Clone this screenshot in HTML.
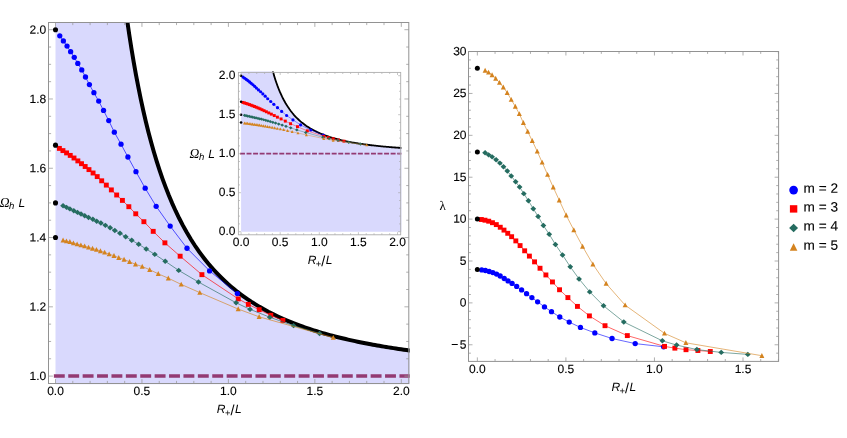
<!DOCTYPE html>
<html><head><meta charset="utf-8"><title>plot</title>
<style>html,body{margin:0;padding:0;background:#fff}body{width:847px;height:438px;overflow:hidden;font-family:"Liberation Sans",sans-serif}</style></head>
<body>
<svg width="847" height="438" viewBox="0 0 847 438" style="display:block;will-change:transform">
<rect width="847" height="438" fill="#fff"/>
<defs>
<clipPath id="cl"><rect x="48.5" y="22.5" width="360.3" height="361.0"/></clipPath>
<clipPath id="ci"><rect x="238.4" y="72.4" width="162.29999999999998" height="162.4"/></clipPath>
<clipPath id="cls"><rect x="48.5" y="22.0" width="361.2" height="362.3"/></clipPath>
<clipPath id="cis"><rect x="238.4" y="71.60000000000001" width="162.99999999999997" height="163.20000000000002"/></clipPath>
</defs>
<g clip-path="url(#cls)">
<path d="M55.50 388.50L55.50 14.50L113.68 14.50L113.68 -99.35L116.64 -68.14L119.66 -39.45L122.76 -13.00L124.86 3.53L127.01 19.24L129.20 34.19L131.43 48.45L133.71 62.05L136.03 75.04L138.40 87.47L140.83 99.36L143.31 110.76L145.86 121.70L148.46 132.20L151.14 142.29L153.89 152.00L156.71 161.35L159.62 170.36L162.62 179.05L165.71 187.43L168.90 195.54L172.21 203.37L175.63 210.95L179.18 218.29L182.86 225.41L186.70 232.31L190.70 239.00L194.87 245.51L197.03 248.69L199.24 251.83L201.50 254.93L203.82 257.98L206.20 260.99L208.64 263.96L211.14 266.90L213.71 269.79L216.35 272.65L219.07 275.47L221.87 278.26L224.76 281.02L227.73 283.74L230.80 286.42L233.97 289.08L237.24 291.71L240.63 294.30L244.15 296.87L247.79 299.41L251.57 301.92L255.51 304.40L259.60 306.86L263.87 309.29L268.32 311.70L272.98 314.08L277.86 316.44L282.98 318.78L288.36 321.09L294.03 323.38L300.02 325.65L302.32 326.48L304.66 327.31L307.06 328.14L309.51 328.97L311.60 329.65L313.72 330.33L315.89 331.02L318.10 331.70L320.35 332.37L322.65 333.05L325.00 333.72L327.39 334.40L329.84 335.07L332.34 335.74L334.89 336.40L336.98 336.94L339.10 337.47L341.26 338.00L343.46 338.53L345.71 339.06L347.99 339.58L350.32 340.11L352.70 340.63L355.12 341.16L357.59 341.68L360.11 342.20L362.69 342.72L365.32 343.24L368.00 343.76L370.75 344.28L372.85 344.67L374.98 345.05L377.15 345.44L379.36 345.83L381.61 346.21L383.90 346.60L386.22 346.98L388.59 347.37L391.01 347.75L393.47 348.13L395.97 348.51L398.53 348.90L401.13 349.28L403.78 349.66L406.49 350.04L409.25 350.42L412.07 350.80L414.95 351.17L417.89 351.55L418.89 351.68L419.89 351.80L420.90 351.93L421.91 352.06L421.91 388.50Z" fill="#d9d9fd"/>
<path d="M122.76 -13.00L124.86 3.53L127.01 19.24L129.20 34.19L131.43 48.45L133.71 62.05L136.03 75.04L138.40 87.47L140.83 99.36L143.31 110.76L145.86 121.70L148.46 132.20L151.14 142.29L153.89 152.00L156.71 161.35L159.62 170.36L162.62 179.05L165.71 187.43L168.90 195.54L172.21 203.37L175.63 210.95L179.18 218.29L182.86 225.41L186.70 232.31L190.70 239.00L194.87 245.51L197.03 248.69L199.24 251.83L201.50 254.93L203.82 257.98L206.20 260.99L208.64 263.96L211.14 266.90L213.71 269.79L216.35 272.65L219.07 275.47L221.87 278.26L224.76 281.02L227.73 283.74L230.80 286.42L233.97 289.08L237.24 291.71L240.63 294.30L244.15 296.87L247.79 299.41L251.57 301.92L255.51 304.40L259.60 306.86L263.87 309.29L268.32 311.70L272.98 314.08L277.86 316.44L282.98 318.78L288.36 321.09L294.03 323.38L300.02 325.65L302.32 326.48L304.66 327.31L307.06 328.14L309.51 328.97L311.60 329.65L313.72 330.33L315.89 331.02L318.10 331.70L320.35 332.37L322.65 333.05L325.00 333.72L327.39 334.40L329.84 335.07L332.34 335.74L334.89 336.40L336.98 336.94L339.10 337.47L341.26 338.00L343.46 338.53L345.71 339.06L347.99 339.58L350.32 340.11L352.70 340.63L355.12 341.16L357.59 341.68L360.11 342.20L362.69 342.72L365.32 343.24L368.00 343.76L370.75 344.28L372.85 344.67L374.98 345.05L377.15 345.44L379.36 345.83L381.61 346.21L383.90 346.60L386.22 346.98L388.59 347.37L391.01 347.75L393.47 348.13L395.97 348.51L398.53 348.90L401.13 349.28L403.78 349.66L406.49 350.04L409.25 350.42L412.07 350.80L414.95 351.17L417.89 351.55L418.89 351.68L419.89 351.80L420.90 351.93L421.91 352.06" fill="none" stroke="#000" stroke-width="4.0"/>
</g>
<path d="M53.85 376.10H409.70" stroke="#933a73" stroke-width="3.5" stroke-dasharray="10.9 3.5" fill="none"/>
<path d="M59.78 35.85L63.38 40.90L67.04 46.10L70.64 51.70L74.25 57.30L77.80 63.45L81.76 69.90L85.49 77.00L89.41 84.60L93.91 92.70L98.70 101.10L103.54 110.45L108.75 120.60L114.34 132.20L121.03 144.20L127.90 157.00L135.97 171.70L145.18 188.20L156.15 206.30L170.18 226.10L187.00 248.25L209.61 270.90L237.37 293.60" fill="none" stroke="#0000ff" stroke-width="0.65"/>
<circle cx="59.78" cy="35.85" r="2.65" fill="#0000ff"/>
<circle cx="63.38" cy="40.90" r="2.65" fill="#0000ff"/>
<circle cx="67.04" cy="46.10" r="2.65" fill="#0000ff"/>
<circle cx="70.64" cy="51.70" r="2.65" fill="#0000ff"/>
<circle cx="74.25" cy="57.30" r="2.65" fill="#0000ff"/>
<circle cx="77.80" cy="63.45" r="2.65" fill="#0000ff"/>
<circle cx="81.76" cy="69.90" r="2.65" fill="#0000ff"/>
<circle cx="85.49" cy="77.00" r="2.65" fill="#0000ff"/>
<circle cx="89.41" cy="84.60" r="2.65" fill="#0000ff"/>
<circle cx="93.91" cy="92.70" r="2.65" fill="#0000ff"/>
<circle cx="98.70" cy="101.10" r="2.65" fill="#0000ff"/>
<circle cx="103.54" cy="110.45" r="2.65" fill="#0000ff"/>
<circle cx="108.75" cy="120.60" r="2.65" fill="#0000ff"/>
<circle cx="114.34" cy="132.20" r="2.65" fill="#0000ff"/>
<circle cx="121.03" cy="144.20" r="2.65" fill="#0000ff"/>
<circle cx="127.90" cy="157.00" r="2.65" fill="#0000ff"/>
<circle cx="135.97" cy="171.70" r="2.65" fill="#0000ff"/>
<circle cx="145.18" cy="188.20" r="2.65" fill="#0000ff"/>
<circle cx="156.15" cy="206.30" r="2.65" fill="#0000ff"/>
<circle cx="170.18" cy="226.10" r="2.65" fill="#0000ff"/>
<circle cx="187.00" cy="248.25" r="2.65" fill="#0000ff"/>
<circle cx="209.61" cy="270.90" r="2.65" fill="#0000ff"/>
<circle cx="237.37" cy="293.60" r="2.65" fill="#0000ff"/>
<path d="M59.38 148.40L62.94 150.60L66.59 152.90L70.25 155.40L74.00 158.00L77.85 160.90L81.51 163.70L85.17 166.50L88.97 169.60L93.07 173.00L97.22 176.60L101.69 180.80L106.31 185.10L111.35 189.90L116.68 195.00L122.41 200.40L128.84 206.70L135.75 213.80L143.90 221.70L153.21 231.35L164.90 242.85L180.14 256.20L201.92 274.65L238.26 298.90L248.33 304.40L259.20 309.70L270.81 315.30L282.91 320.40" fill="none" stroke="#ff0000" stroke-width="0.65"/>
<rect x="56.93" y="145.95" width="4.90" height="4.90" fill="#ff0000"/>
<rect x="60.49" y="148.15" width="4.90" height="4.90" fill="#ff0000"/>
<rect x="64.14" y="150.45" width="4.90" height="4.90" fill="#ff0000"/>
<rect x="67.80" y="152.95" width="4.90" height="4.90" fill="#ff0000"/>
<rect x="71.55" y="155.55" width="4.90" height="4.90" fill="#ff0000"/>
<rect x="75.40" y="158.45" width="4.90" height="4.90" fill="#ff0000"/>
<rect x="79.06" y="161.25" width="4.90" height="4.90" fill="#ff0000"/>
<rect x="82.72" y="164.05" width="4.90" height="4.90" fill="#ff0000"/>
<rect x="86.52" y="167.15" width="4.90" height="4.90" fill="#ff0000"/>
<rect x="90.62" y="170.55" width="4.90" height="4.90" fill="#ff0000"/>
<rect x="94.77" y="174.15" width="4.90" height="4.90" fill="#ff0000"/>
<rect x="99.24" y="178.35" width="4.90" height="4.90" fill="#ff0000"/>
<rect x="103.86" y="182.65" width="4.90" height="4.90" fill="#ff0000"/>
<rect x="108.90" y="187.45" width="4.90" height="4.90" fill="#ff0000"/>
<rect x="114.23" y="192.55" width="4.90" height="4.90" fill="#ff0000"/>
<rect x="119.96" y="197.95" width="4.90" height="4.90" fill="#ff0000"/>
<rect x="126.39" y="204.25" width="4.90" height="4.90" fill="#ff0000"/>
<rect x="133.30" y="211.35" width="4.90" height="4.90" fill="#ff0000"/>
<rect x="141.45" y="219.25" width="4.90" height="4.90" fill="#ff0000"/>
<rect x="150.76" y="228.90" width="4.90" height="4.90" fill="#ff0000"/>
<rect x="162.45" y="240.40" width="4.90" height="4.90" fill="#ff0000"/>
<rect x="177.69" y="253.75" width="4.90" height="4.90" fill="#ff0000"/>
<rect x="199.47" y="272.20" width="4.90" height="4.90" fill="#ff0000"/>
<rect x="235.81" y="296.45" width="4.90" height="4.90" fill="#ff0000"/>
<rect x="245.88" y="301.95" width="4.90" height="4.90" fill="#ff0000"/>
<rect x="256.75" y="307.25" width="4.90" height="4.90" fill="#ff0000"/>
<rect x="268.36" y="312.85" width="4.90" height="4.90" fill="#ff0000"/>
<rect x="280.46" y="317.95" width="4.90" height="4.90" fill="#ff0000"/>
<path d="M63.07 205.80L66.48 207.36L69.90 208.89L73.81 210.70L77.52 212.42L81.03 214.06L84.74 215.72L88.55 217.50L92.87 219.27L96.72 221.21L100.88 223.04L105.37 225.33L110.11 227.80L114.83 230.43L119.99 233.24L125.67 236.80L131.72 240.26L138.67 244.28L146.20 249.01L154.77 254.34L165.22 261.31L178.70 270.40L198.47 282.02L236.13 302.81L250.04 309.33L269.82 317.24L293.58 325.66L319.57 333.46" fill="none" stroke="#256c60" stroke-width="0.65"/>
<path d="M60.17 205.80L63.07 203.10L65.97 205.80L63.07 208.50Z" fill="#256c60"/>
<path d="M63.58 207.36L66.48 204.66L69.38 207.36L66.48 210.06Z" fill="#256c60"/>
<path d="M67.00 208.89L69.90 206.19L72.80 208.89L69.90 211.59Z" fill="#256c60"/>
<path d="M70.91 210.70L73.81 208.00L76.71 210.70L73.81 213.40Z" fill="#256c60"/>
<path d="M74.62 212.42L77.52 209.72L80.42 212.42L77.52 215.12Z" fill="#256c60"/>
<path d="M78.13 214.06L81.03 211.36L83.93 214.06L81.03 216.76Z" fill="#256c60"/>
<path d="M81.84 215.72L84.74 213.02L87.64 215.72L84.74 218.42Z" fill="#256c60"/>
<path d="M85.65 217.50L88.55 214.80L91.45 217.50L88.55 220.20Z" fill="#256c60"/>
<path d="M89.97 219.27L92.87 216.57L95.77 219.27L92.87 221.97Z" fill="#256c60"/>
<path d="M93.82 221.21L96.72 218.51L99.62 221.21L96.72 223.91Z" fill="#256c60"/>
<path d="M97.98 223.04L100.88 220.34L103.78 223.04L100.88 225.74Z" fill="#256c60"/>
<path d="M102.47 225.33L105.37 222.63L108.27 225.33L105.37 228.03Z" fill="#256c60"/>
<path d="M107.21 227.80L110.11 225.10L113.01 227.80L110.11 230.50Z" fill="#256c60"/>
<path d="M111.93 230.43L114.83 227.73L117.73 230.43L114.83 233.13Z" fill="#256c60"/>
<path d="M117.09 233.24L119.99 230.54L122.89 233.24L119.99 235.94Z" fill="#256c60"/>
<path d="M122.77 236.80L125.67 234.10L128.57 236.80L125.67 239.50Z" fill="#256c60"/>
<path d="M128.82 240.26L131.72 237.56L134.62 240.26L131.72 242.96Z" fill="#256c60"/>
<path d="M135.77 244.28L138.67 241.58L141.57 244.28L138.67 246.98Z" fill="#256c60"/>
<path d="M143.30 249.01L146.20 246.31L149.10 249.01L146.20 251.71Z" fill="#256c60"/>
<path d="M151.87 254.34L154.77 251.64L157.67 254.34L154.77 257.04Z" fill="#256c60"/>
<path d="M162.32 261.31L165.22 258.61L168.12 261.31L165.22 264.01Z" fill="#256c60"/>
<path d="M175.80 270.40L178.70 267.70L181.60 270.40L178.70 273.10Z" fill="#256c60"/>
<path d="M195.57 282.02L198.47 279.32L201.37 282.02L198.47 284.72Z" fill="#256c60"/>
<path d="M233.23 302.81L236.13 300.11L239.03 302.81L236.13 305.51Z" fill="#256c60"/>
<path d="M247.14 309.33L250.04 306.63L252.94 309.33L250.04 312.03Z" fill="#256c60"/>
<path d="M266.92 317.24L269.82 314.54L272.72 317.24L269.82 319.94Z" fill="#256c60"/>
<path d="M290.68 325.66L293.58 322.96L296.48 325.66L293.58 328.36Z" fill="#256c60"/>
<path d="M316.67 333.46L319.57 330.76L322.47 333.46L319.57 336.16Z" fill="#256c60"/>
<path d="M63.07 240.30L66.44 241.10L69.88 241.80L73.41 243.10L77.11 244.10L80.87 245.10L84.62 246.10L88.57 247.40L92.58 248.50L96.48 249.60L100.43 251.00L104.63 252.40L109.13 254.10L113.97 255.70L118.76 257.70L124.04 259.50L129.58 261.80L135.48 264.30L142.22 266.55L149.71 269.70L158.23 273.80L168.31 278.20L181.20 284.40L199.77 292.60L238.20 309.05L259.10 316.80L333.25 337.60" fill="none" stroke="#d4831f" stroke-width="0.65"/>
<path d="M60.57 242.50L65.57 242.50L63.07 237.60Z" fill="#d4831f"/>
<path d="M63.94 243.30L68.94 243.30L66.44 238.40Z" fill="#d4831f"/>
<path d="M67.38 244.00L72.38 244.00L69.88 239.10Z" fill="#d4831f"/>
<path d="M70.91 245.30L75.91 245.30L73.41 240.40Z" fill="#d4831f"/>
<path d="M74.61 246.30L79.61 246.30L77.11 241.40Z" fill="#d4831f"/>
<path d="M78.37 247.30L83.37 247.30L80.87 242.40Z" fill="#d4831f"/>
<path d="M82.12 248.30L87.12 248.30L84.62 243.40Z" fill="#d4831f"/>
<path d="M86.07 249.60L91.07 249.60L88.57 244.70Z" fill="#d4831f"/>
<path d="M90.08 250.70L95.08 250.70L92.58 245.80Z" fill="#d4831f"/>
<path d="M93.98 251.80L98.98 251.80L96.48 246.90Z" fill="#d4831f"/>
<path d="M97.93 253.20L102.93 253.20L100.43 248.30Z" fill="#d4831f"/>
<path d="M102.13 254.60L107.13 254.60L104.63 249.70Z" fill="#d4831f"/>
<path d="M106.63 256.30L111.63 256.30L109.13 251.40Z" fill="#d4831f"/>
<path d="M111.47 257.90L116.47 257.90L113.97 253.00Z" fill="#d4831f"/>
<path d="M116.26 259.90L121.26 259.90L118.76 255.00Z" fill="#d4831f"/>
<path d="M121.54 261.70L126.54 261.70L124.04 256.80Z" fill="#d4831f"/>
<path d="M127.08 264.00L132.08 264.00L129.58 259.10Z" fill="#d4831f"/>
<path d="M132.98 266.50L137.98 266.50L135.48 261.60Z" fill="#d4831f"/>
<path d="M139.72 268.75L144.72 268.75L142.22 263.85Z" fill="#d4831f"/>
<path d="M147.21 271.90L152.21 271.90L149.71 267.00Z" fill="#d4831f"/>
<path d="M155.73 276.00L160.73 276.00L158.23 271.10Z" fill="#d4831f"/>
<path d="M165.81 280.40L170.81 280.40L168.31 275.50Z" fill="#d4831f"/>
<path d="M178.70 286.60L183.70 286.60L181.20 281.70Z" fill="#d4831f"/>
<path d="M197.27 294.80L202.27 294.80L199.77 289.90Z" fill="#d4831f"/>
<path d="M235.70 311.25L240.70 311.25L238.20 306.35Z" fill="#d4831f"/>
<path d="M256.60 319.00L261.60 319.00L259.10 314.10Z" fill="#d4831f"/>
<path d="M330.75 339.80L335.75 339.80L333.25 334.90Z" fill="#d4831f"/>
<circle cx="55.50" cy="29.70" r="2.55" fill="#000"/>
<circle cx="55.50" cy="145.17" r="2.55" fill="#000"/>
<circle cx="55.50" cy="202.90" r="2.55" fill="#000"/>
<circle cx="55.50" cy="237.54" r="2.55" fill="#000"/>
<path d="M55.50 383.5v-4.4M55.50 22.5v4.4M72.79 383.5v-2.6M72.79 22.5v2.6M90.08 383.5v-2.6M90.08 22.5v2.6M107.37 383.5v-2.6M107.37 22.5v2.6M124.66 383.5v-2.6M124.66 22.5v2.6M141.95 383.5v-4.4M141.95 22.5v4.4M159.24 383.5v-2.6M159.24 22.5v2.6M176.53 383.5v-2.6M176.53 22.5v2.6M193.82 383.5v-2.6M193.82 22.5v2.6M211.11 383.5v-2.6M211.11 22.5v2.6M228.40 383.5v-4.4M228.40 22.5v4.4M245.69 383.5v-2.6M245.69 22.5v2.6M262.98 383.5v-2.6M262.98 22.5v2.6M280.27 383.5v-2.6M280.27 22.5v2.6M297.56 383.5v-2.6M297.56 22.5v2.6M314.85 383.5v-4.4M314.85 22.5v4.4M332.14 383.5v-2.6M332.14 22.5v2.6M349.43 383.5v-2.6M349.43 22.5v2.6M366.72 383.5v-2.6M366.72 22.5v2.6M384.01 383.5v-2.6M384.01 22.5v2.6M401.30 383.5v-4.4M401.30 22.5v4.4M48.5 376.10h4.4M408.8 376.10h-4.4M48.5 358.78h2.6M408.8 358.78h-2.6M48.5 341.46h2.6M408.8 341.46h-2.6M48.5 324.14h2.6M408.8 324.14h-2.6M48.5 306.82h4.4M408.8 306.82h-4.4M48.5 289.50h2.6M408.8 289.50h-2.6M48.5 272.18h2.6M408.8 272.18h-2.6M48.5 254.86h2.6M408.8 254.86h-2.6M48.5 237.54h4.4M408.8 237.54h-4.4M48.5 220.22h2.6M408.8 220.22h-2.6M48.5 202.90h2.6M408.8 202.90h-2.6M48.5 185.58h2.6M408.8 185.58h-2.6M48.5 168.26h4.4M408.8 168.26h-4.4M48.5 150.94h2.6M408.8 150.94h-2.6M48.5 133.62h2.6M408.8 133.62h-2.6M48.5 116.30h2.6M408.8 116.30h-2.6M48.5 98.98h4.4M408.8 98.98h-4.4M48.5 81.66h2.6M408.8 81.66h-2.6M48.5 64.34h2.6M408.8 64.34h-2.6M48.5 47.02h2.6M408.8 47.02h-2.6M48.5 29.70h4.4M408.8 29.70h-4.4" stroke="#9c9c9c" stroke-width="0.8" fill="none"/>
<rect x="48.5" y="22.5" width="360.30" height="361.00" fill="none" stroke="#929292" stroke-width="1.0"/>
<text x="55.50" y="395.10" transform="rotate(0.03 55.50 395.10)" text-anchor="middle" style="font-family:'Liberation Sans',sans-serif;font-size:12px;fill:#000;stroke:#000;stroke-width:0.12px" >0.0</text>
<text x="141.95" y="395.10" transform="rotate(0.03 141.95 395.10)" text-anchor="middle" style="font-family:'Liberation Sans',sans-serif;font-size:12px;fill:#000;stroke:#000;stroke-width:0.12px" >0.5</text>
<text x="228.40" y="395.10" transform="rotate(0.03 228.40 395.10)" text-anchor="middle" style="font-family:'Liberation Sans',sans-serif;font-size:12px;fill:#000;stroke:#000;stroke-width:0.12px" >1.0</text>
<text x="314.85" y="395.10" transform="rotate(0.03 314.85 395.10)" text-anchor="middle" style="font-family:'Liberation Sans',sans-serif;font-size:12px;fill:#000;stroke:#000;stroke-width:0.12px" >1.5</text>
<text x="401.30" y="395.10" transform="rotate(0.03 401.30 395.10)" text-anchor="middle" style="font-family:'Liberation Sans',sans-serif;font-size:12px;fill:#000;stroke:#000;stroke-width:0.12px" >2.0</text>
<text x="46.30" y="380.10" transform="rotate(0.03 46.30 380.10)" text-anchor="end" style="font-family:'Liberation Sans',sans-serif;font-size:12px;fill:#000;stroke:#000;stroke-width:0.12px" >1.0</text>
<text x="46.30" y="310.82" transform="rotate(0.03 46.30 310.82)" text-anchor="end" style="font-family:'Liberation Sans',sans-serif;font-size:12px;fill:#000;stroke:#000;stroke-width:0.12px" >1.2</text>
<text x="46.30" y="241.54" transform="rotate(0.03 46.30 241.54)" text-anchor="end" style="font-family:'Liberation Sans',sans-serif;font-size:12px;fill:#000;stroke:#000;stroke-width:0.12px" >1.4</text>
<text x="46.30" y="172.26" transform="rotate(0.03 46.30 172.26)" text-anchor="end" style="font-family:'Liberation Sans',sans-serif;font-size:12px;fill:#000;stroke:#000;stroke-width:0.12px" >1.6</text>
<text x="46.30" y="102.98" transform="rotate(0.03 46.30 102.98)" text-anchor="end" style="font-family:'Liberation Sans',sans-serif;font-size:12px;fill:#000;stroke:#000;stroke-width:0.12px" >1.8</text>
<text x="46.30" y="33.70" transform="rotate(0.03 46.30 33.70)" text-anchor="end" style="font-family:'Liberation Sans',sans-serif;font-size:12px;fill:#000;stroke:#000;stroke-width:0.12px" >2.0</text>
<text x="-0.30" y="207.00" transform="rotate(0.03 -0.30 207.00)" style="font-family:'Liberation Serif',serif;font-size:13.6px;font-style:italic;fill:#000">Ω</text>
<text x="9.10" y="209.00" transform="rotate(0.03 9.10 209.00)" style="font-family:'Liberation Sans',sans-serif;font-size:9.6px;font-style:italic;fill:#000">h</text>
<text x="18.40" y="207.00" transform="rotate(0.03 18.40 207.00)" style="font-family:'Liberation Sans',sans-serif;font-size:12px;font-style:italic;fill:#000">L</text>
<text x="216.85" y="413.00" transform="rotate(0.03 216.85 413.00)" style="font-family:'Liberation Sans',sans-serif;font-style:italic;fill:#000;font-size:12px">R</text>
<text x="224.95" y="416.00" transform="rotate(0.03 224.95 416.00)" style="font-family:'Liberation Sans',sans-serif;fill:#000;font-size:9.4px">+</text>
<text x="230.45" y="415.00" transform="rotate(0.03 230.45 415.00)" style="font-family:'Liberation Sans',sans-serif;fill:#000;font-size:14.4px">/</text>
<text x="234.95" y="413.00" transform="rotate(0.03 234.95 413.00)" style="font-family:'Liberation Sans',sans-serif;font-style:italic;fill:#000;font-size:12px">L</text>
<rect x="238.4" y="72.4" width="162.30" height="162.40" fill="#fff"/>
<g clip-path="url(#cis)">
<path d="M241.10 231.70L241.10 64.40L267.42 64.40L267.42 46.64L268.75 53.67L270.12 60.13L271.52 66.09L272.47 69.81L273.44 73.34L274.43 76.71L275.44 79.92L276.47 82.98L277.52 85.91L278.60 88.71L279.69 91.39L280.82 93.95L281.97 96.42L283.15 98.78L284.36 101.05L285.60 103.24L286.88 105.34L288.19 107.37L289.55 109.33L290.95 111.22L292.39 113.04L293.88 114.81L295.43 116.51L297.04 118.17L298.70 119.77L300.44 121.32L302.25 122.83L304.14 124.29L305.11 125.01L306.11 125.72L307.13 126.41L308.18 127.10L309.26 127.78L310.36 128.45L311.49 129.11L312.66 129.76L313.85 130.41L315.08 131.04L316.35 131.67L317.65 132.29L319.00 132.90L320.38 133.51L321.82 134.11L323.30 134.70L324.83 135.28L326.42 135.86L328.07 136.43L329.78 137.00L331.56 137.56L333.41 138.11L335.34 138.66L337.36 139.20L339.46 139.73L341.67 140.27L343.99 140.79L346.42 141.31L348.98 141.83L351.69 142.34L352.73 142.53L353.79 142.71L354.88 142.90L355.99 143.09L356.93 143.24L357.89 143.39L358.87 143.55L359.87 143.70L360.89 143.85L361.93 144.01L362.99 144.16L364.07 144.31L365.18 144.46L366.31 144.61L367.47 144.76L368.41 144.88L369.37 145.00L370.35 145.12L371.34 145.24L372.36 145.36L373.39 145.48L374.44 145.60L375.52 145.71L376.61 145.83L377.73 145.95L378.87 146.07L380.04 146.18L381.23 146.30L382.44 146.42L383.68 146.53L384.63 146.62L385.60 146.71L386.58 146.80L387.58 146.88L388.59 146.97L389.63 147.06L390.68 147.14L391.75 147.23L392.85 147.32L393.96 147.40L395.09 147.49L396.25 147.57L397.42 147.66L398.62 147.75L399.85 147.83L401.10 147.92L402.37 148.00L403.68 148.09L405.00 148.17L405.45 148.20L405.91 148.23L406.36 148.26L406.82 148.29L406.82 231.70Z" fill="#d9d9fd"/>
<path d="M267.42 46.64L268.75 53.67L270.12 60.13L271.52 66.09L272.47 69.81L273.44 73.34L274.43 76.71L275.44 79.92L276.47 82.98L277.52 85.91L278.60 88.71L279.69 91.39L280.82 93.95L281.97 96.42L283.15 98.78L284.36 101.05L285.60 103.24L286.88 105.34L288.19 107.37L289.55 109.33L290.95 111.22L292.39 113.04L293.88 114.81L295.43 116.51L297.04 118.17L298.70 119.77L300.44 121.32L302.25 122.83L304.14 124.29L305.11 125.01L306.11 125.72L307.13 126.41L308.18 127.10L309.26 127.78L310.36 128.45L311.49 129.11L312.66 129.76L313.85 130.41L315.08 131.04L316.35 131.67L317.65 132.29L319.00 132.90L320.38 133.51L321.82 134.11L323.30 134.70L324.83 135.28L326.42 135.86L328.07 136.43L329.78 137.00L331.56 137.56L333.41 138.11L335.34 138.66L337.36 139.20L339.46 139.73L341.67 140.27L343.99 140.79L346.42 141.31L348.98 141.83L351.69 142.34L352.73 142.53L353.79 142.71L354.88 142.90L355.99 143.09L356.93 143.24L357.89 143.39L358.87 143.55L359.87 143.70L360.89 143.85L361.93 144.01L362.99 144.16L364.07 144.31L365.18 144.46L366.31 144.61L367.47 144.76L368.41 144.88L369.37 145.00L370.35 145.12L371.34 145.24L372.36 145.36L373.39 145.48L374.44 145.60L375.52 145.71L376.61 145.83L377.73 145.95L378.87 146.07L380.04 146.18L381.23 146.30L382.44 146.42L383.68 146.53L384.63 146.62L385.60 146.71L386.58 146.80L387.58 146.88L388.59 146.97L389.63 147.06L390.68 147.14L391.75 147.23L392.85 147.32L393.96 147.40L395.09 147.49L396.25 147.57L397.42 147.66L398.62 147.75L399.85 147.83L401.10 147.92L402.37 148.00L403.68 148.09L405.00 148.17L405.45 148.20L405.91 148.23L406.36 148.26L406.82 148.29" fill="none" stroke="#000" stroke-width="1.8"/>
</g>
<path d="M240.00 153.70H401.40" stroke="#933a73" stroke-width="1.8" stroke-dasharray="4.95 1.6" fill="none"/>
<path d="M243.03 77.08L244.67 78.22L246.32 79.39L247.95 80.65L249.58 81.91L251.19 83.30L252.97 84.75L254.66 86.35L256.44 88.06L258.47 89.89L260.64 91.78L262.83 93.88L265.19 96.17L267.71 98.78L270.74 101.48L273.84 104.36L277.50 107.67L281.66 111.39L286.62 115.47L292.97 119.92L300.58 124.91L310.80 130.01L323.36 135.12" fill="none" stroke="#0000ff" stroke-width="0.4"/>
<circle cx="243.03" cy="77.08" r="1.59" fill="#0000ff"/>
<circle cx="244.67" cy="78.22" r="1.59" fill="#0000ff"/>
<circle cx="246.32" cy="79.39" r="1.59" fill="#0000ff"/>
<circle cx="247.95" cy="80.65" r="1.59" fill="#0000ff"/>
<circle cx="249.58" cy="81.91" r="1.59" fill="#0000ff"/>
<circle cx="251.19" cy="83.30" r="1.59" fill="#0000ff"/>
<circle cx="252.97" cy="84.75" r="1.59" fill="#0000ff"/>
<circle cx="254.66" cy="86.35" r="1.59" fill="#0000ff"/>
<circle cx="256.44" cy="88.06" r="1.59" fill="#0000ff"/>
<circle cx="258.47" cy="89.89" r="1.59" fill="#0000ff"/>
<circle cx="260.64" cy="91.78" r="1.59" fill="#0000ff"/>
<circle cx="262.83" cy="93.88" r="1.59" fill="#0000ff"/>
<circle cx="265.19" cy="96.17" r="1.59" fill="#0000ff"/>
<circle cx="267.71" cy="98.78" r="1.59" fill="#0000ff"/>
<circle cx="270.74" cy="101.48" r="1.59" fill="#0000ff"/>
<circle cx="273.84" cy="104.36" r="1.59" fill="#0000ff"/>
<circle cx="277.50" cy="107.67" r="1.59" fill="#0000ff"/>
<circle cx="281.66" cy="111.39" r="1.59" fill="#0000ff"/>
<circle cx="286.62" cy="115.47" r="1.59" fill="#0000ff"/>
<circle cx="292.97" cy="119.92" r="1.59" fill="#0000ff"/>
<circle cx="300.58" cy="124.91" r="1.59" fill="#0000ff"/>
<circle cx="310.80" cy="130.01" r="1.59" fill="#0000ff"/>
<circle cx="323.36" cy="135.12" r="1.59" fill="#0000ff"/>
<path d="M242.86 102.43L244.46 102.92L246.12 103.44L247.77 104.00L249.47 104.59L251.21 105.24L252.86 105.87L254.52 106.50L256.24 107.20L258.09 107.97L259.97 108.78L261.99 109.72L264.08 110.69L266.36 111.77L268.77 112.92L271.36 114.14L274.27 115.56L277.40 117.15L281.08 118.93L285.29 121.11L290.58 123.70L297.47 126.70L307.32 130.86L323.76 136.32L328.32 137.56L333.23 138.75L338.48 140.01L343.96 141.16" fill="none" stroke="#ff0000" stroke-width="0.4"/>
<rect x="241.39" y="100.96" width="2.94" height="2.94" fill="#ff0000"/>
<rect x="242.99" y="101.45" width="2.94" height="2.94" fill="#ff0000"/>
<rect x="244.65" y="101.97" width="2.94" height="2.94" fill="#ff0000"/>
<rect x="246.30" y="102.53" width="2.94" height="2.94" fill="#ff0000"/>
<rect x="248.00" y="103.12" width="2.94" height="2.94" fill="#ff0000"/>
<rect x="249.74" y="103.77" width="2.94" height="2.94" fill="#ff0000"/>
<rect x="251.39" y="104.40" width="2.94" height="2.94" fill="#ff0000"/>
<rect x="253.05" y="105.03" width="2.94" height="2.94" fill="#ff0000"/>
<rect x="254.77" y="105.73" width="2.94" height="2.94" fill="#ff0000"/>
<rect x="256.62" y="106.50" width="2.94" height="2.94" fill="#ff0000"/>
<rect x="258.50" y="107.31" width="2.94" height="2.94" fill="#ff0000"/>
<rect x="260.52" y="108.25" width="2.94" height="2.94" fill="#ff0000"/>
<rect x="262.61" y="109.22" width="2.94" height="2.94" fill="#ff0000"/>
<rect x="264.89" y="110.30" width="2.94" height="2.94" fill="#ff0000"/>
<rect x="267.30" y="111.45" width="2.94" height="2.94" fill="#ff0000"/>
<rect x="269.89" y="112.67" width="2.94" height="2.94" fill="#ff0000"/>
<rect x="272.80" y="114.09" width="2.94" height="2.94" fill="#ff0000"/>
<rect x="275.93" y="115.68" width="2.94" height="2.94" fill="#ff0000"/>
<rect x="279.61" y="117.46" width="2.94" height="2.94" fill="#ff0000"/>
<rect x="283.82" y="119.64" width="2.94" height="2.94" fill="#ff0000"/>
<rect x="289.11" y="122.23" width="2.94" height="2.94" fill="#ff0000"/>
<rect x="296.00" y="125.23" width="2.94" height="2.94" fill="#ff0000"/>
<rect x="305.85" y="129.39" width="2.94" height="2.94" fill="#ff0000"/>
<rect x="322.29" y="134.85" width="2.94" height="2.94" fill="#ff0000"/>
<rect x="326.85" y="136.09" width="2.94" height="2.94" fill="#ff0000"/>
<rect x="331.76" y="137.28" width="2.94" height="2.94" fill="#ff0000"/>
<rect x="337.01" y="138.54" width="2.94" height="2.94" fill="#ff0000"/>
<rect x="342.49" y="139.69" width="2.94" height="2.94" fill="#ff0000"/>
<path d="M244.52 115.35L246.07 115.71L247.61 116.05L249.38 116.46L251.06 116.84L252.65 117.21L254.32 117.59L256.05 117.99L258.00 118.39L259.74 118.82L261.62 119.24L263.66 119.75L265.80 120.31L267.93 120.90L270.27 121.53L272.84 122.33L275.57 123.11L278.71 124.02L282.12 125.08L286.00 126.28L290.72 127.85L296.82 129.90L305.76 132.52L322.80 137.20L329.09 138.67L338.03 140.45L348.78 142.34L360.53 144.10" fill="none" stroke="#256c60" stroke-width="0.4"/>
<path d="M242.78 115.35L244.52 113.73L246.26 115.35L244.52 116.97Z" fill="#256c60"/>
<path d="M244.33 115.71L246.07 114.09L247.81 115.71L246.07 117.33Z" fill="#256c60"/>
<path d="M245.87 116.05L247.61 114.43L249.35 116.05L247.61 117.67Z" fill="#256c60"/>
<path d="M247.64 116.46L249.38 114.84L251.12 116.46L249.38 118.08Z" fill="#256c60"/>
<path d="M249.32 116.84L251.06 115.22L252.80 116.84L251.06 118.46Z" fill="#256c60"/>
<path d="M250.91 117.21L252.65 115.59L254.39 117.21L252.65 118.83Z" fill="#256c60"/>
<path d="M252.58 117.59L254.32 115.97L256.06 117.59L254.32 119.21Z" fill="#256c60"/>
<path d="M254.31 117.99L256.05 116.37L257.79 117.99L256.05 119.61Z" fill="#256c60"/>
<path d="M256.26 118.39L258.00 116.77L259.74 118.39L258.00 120.01Z" fill="#256c60"/>
<path d="M258.00 118.82L259.74 117.20L261.48 118.82L259.74 120.44Z" fill="#256c60"/>
<path d="M259.88 119.24L261.62 117.62L263.36 119.24L261.62 120.86Z" fill="#256c60"/>
<path d="M261.92 119.75L263.66 118.13L265.40 119.75L263.66 121.37Z" fill="#256c60"/>
<path d="M264.06 120.31L265.80 118.69L267.54 120.31L265.80 121.93Z" fill="#256c60"/>
<path d="M266.19 120.90L267.93 119.28L269.67 120.90L267.93 122.52Z" fill="#256c60"/>
<path d="M268.53 121.53L270.27 119.91L272.01 121.53L270.27 123.15Z" fill="#256c60"/>
<path d="M271.10 122.33L272.84 120.71L274.58 122.33L272.84 123.95Z" fill="#256c60"/>
<path d="M273.83 123.11L275.57 121.49L277.31 123.11L275.57 124.73Z" fill="#256c60"/>
<path d="M276.97 124.02L278.71 122.40L280.45 124.02L278.71 125.64Z" fill="#256c60"/>
<path d="M280.38 125.08L282.12 123.46L283.86 125.08L282.12 126.70Z" fill="#256c60"/>
<path d="M284.26 126.28L286.00 124.66L287.74 126.28L286.00 127.90Z" fill="#256c60"/>
<path d="M288.98 127.85L290.72 126.23L292.46 127.85L290.72 129.47Z" fill="#256c60"/>
<path d="M295.08 129.90L296.82 128.28L298.56 129.90L296.82 131.52Z" fill="#256c60"/>
<path d="M304.02 132.52L305.76 130.90L307.50 132.52L305.76 134.14Z" fill="#256c60"/>
<path d="M321.06 137.20L322.80 135.58L324.54 137.20L322.80 138.82Z" fill="#256c60"/>
<path d="M327.35 138.67L329.09 137.05L330.83 138.67L329.09 140.29Z" fill="#256c60"/>
<path d="M336.29 140.45L338.03 138.83L339.77 140.45L338.03 142.07Z" fill="#256c60"/>
<path d="M347.04 142.34L348.78 140.72L350.52 142.34L348.78 143.96Z" fill="#256c60"/>
<path d="M358.79 144.10L360.53 142.48L362.27 144.10L360.53 145.72Z" fill="#256c60"/>
<path d="M244.52 123.12L246.05 123.30L247.60 123.46L249.20 123.75L250.87 123.98L252.57 124.20L254.27 124.43L256.06 124.72L257.87 124.97L259.63 125.22L261.42 125.53L263.32 125.85L265.35 126.23L267.54 126.59L269.71 127.04L272.10 127.44L274.60 127.96L277.27 128.53L280.32 129.03L283.71 129.74L287.56 130.66L292.12 131.66L297.95 133.05L306.35 134.90L323.73 138.60L333.19 140.35L366.72 145.03" fill="none" stroke="#d4831f" stroke-width="0.4"/>
<path d="M243.02 124.44L246.02 124.44L244.52 121.50Z" fill="#d4831f"/>
<path d="M244.55 124.62L247.55 124.62L246.05 121.68Z" fill="#d4831f"/>
<path d="M246.10 124.78L249.10 124.78L247.60 121.84Z" fill="#d4831f"/>
<path d="M247.70 125.07L250.70 125.07L249.20 122.13Z" fill="#d4831f"/>
<path d="M249.37 125.30L252.37 125.30L250.87 122.36Z" fill="#d4831f"/>
<path d="M251.07 125.52L254.07 125.52L252.57 122.58Z" fill="#d4831f"/>
<path d="M252.77 125.75L255.77 125.75L254.27 122.81Z" fill="#d4831f"/>
<path d="M254.56 126.04L257.56 126.04L256.06 123.10Z" fill="#d4831f"/>
<path d="M256.37 126.29L259.37 126.29L257.87 123.35Z" fill="#d4831f"/>
<path d="M258.13 126.54L261.13 126.54L259.63 123.60Z" fill="#d4831f"/>
<path d="M259.92 126.85L262.92 126.85L261.42 123.91Z" fill="#d4831f"/>
<path d="M261.82 127.17L264.82 127.17L263.32 124.23Z" fill="#d4831f"/>
<path d="M263.85 127.55L266.85 127.55L265.35 124.61Z" fill="#d4831f"/>
<path d="M266.04 127.91L269.04 127.91L267.54 124.97Z" fill="#d4831f"/>
<path d="M268.21 128.36L271.21 128.36L269.71 125.42Z" fill="#d4831f"/>
<path d="M270.60 128.76L273.60 128.76L272.10 125.82Z" fill="#d4831f"/>
<path d="M273.10 129.28L276.10 129.28L274.60 126.34Z" fill="#d4831f"/>
<path d="M275.77 129.85L278.77 129.85L277.27 126.91Z" fill="#d4831f"/>
<path d="M278.82 130.35L281.82 130.35L280.32 127.41Z" fill="#d4831f"/>
<path d="M282.21 131.06L285.21 131.06L283.71 128.12Z" fill="#d4831f"/>
<path d="M286.06 131.98L289.06 131.98L287.56 129.04Z" fill="#d4831f"/>
<path d="M290.62 132.98L293.62 132.98L292.12 130.04Z" fill="#d4831f"/>
<path d="M296.45 134.37L299.45 134.37L297.95 131.43Z" fill="#d4831f"/>
<path d="M304.85 136.22L307.85 136.22L306.35 133.28Z" fill="#d4831f"/>
<path d="M322.23 139.92L325.23 139.92L323.73 136.98Z" fill="#d4831f"/>
<path d="M331.69 141.67L334.69 141.67L333.19 138.73Z" fill="#d4831f"/>
<path d="M365.22 146.35L368.22 146.35L366.72 143.41Z" fill="#d4831f"/>
<circle cx="241.10" cy="75.70" r="1.3" fill="#000"/>
<circle cx="241.10" cy="101.70" r="1.3" fill="#000"/>
<circle cx="241.10" cy="114.70" r="1.3" fill="#000"/>
<circle cx="241.10" cy="122.50" r="1.3" fill="#000"/>
<path d="M241.10 234.8v-2.6M241.10 72.4v2.6M248.92 234.8v-1.6M248.92 72.4v1.6M256.74 234.8v-1.6M256.74 72.4v1.6M264.56 234.8v-1.6M264.56 72.4v1.6M272.38 234.8v-1.6M272.38 72.4v1.6M280.20 234.8v-2.6M280.20 72.4v2.6M288.02 234.8v-1.6M288.02 72.4v1.6M295.84 234.8v-1.6M295.84 72.4v1.6M303.66 234.8v-1.6M303.66 72.4v1.6M311.48 234.8v-1.6M311.48 72.4v1.6M319.30 234.8v-2.6M319.30 72.4v2.6M327.12 234.8v-1.6M327.12 72.4v1.6M334.94 234.8v-1.6M334.94 72.4v1.6M342.76 234.8v-1.6M342.76 72.4v1.6M350.58 234.8v-1.6M350.58 72.4v1.6M358.40 234.8v-2.6M358.40 72.4v2.6M366.22 234.8v-1.6M366.22 72.4v1.6M374.04 234.8v-1.6M374.04 72.4v1.6M381.86 234.8v-1.6M381.86 72.4v1.6M389.68 234.8v-1.6M389.68 72.4v1.6M397.50 234.8v-2.6M397.50 72.4v2.6M238.4 231.70h2.6M400.7 231.70h-2.6M238.4 223.90h1.6M400.7 223.90h-1.6M238.4 216.10h1.6M400.7 216.10h-1.6M238.4 208.30h1.6M400.7 208.30h-1.6M238.4 200.50h1.6M400.7 200.50h-1.6M238.4 192.70h2.6M400.7 192.70h-2.6M238.4 184.90h1.6M400.7 184.90h-1.6M238.4 177.10h1.6M400.7 177.10h-1.6M238.4 169.30h1.6M400.7 169.30h-1.6M238.4 161.50h1.6M400.7 161.50h-1.6M238.4 153.70h2.6M400.7 153.70h-2.6M238.4 145.90h1.6M400.7 145.90h-1.6M238.4 138.10h1.6M400.7 138.10h-1.6M238.4 130.30h1.6M400.7 130.30h-1.6M238.4 122.50h1.6M400.7 122.50h-1.6M238.4 114.70h2.6M400.7 114.70h-2.6M238.4 106.90h1.6M400.7 106.90h-1.6M238.4 99.10h1.6M400.7 99.10h-1.6M238.4 91.30h1.6M400.7 91.30h-1.6M238.4 83.50h1.6M400.7 83.50h-1.6M238.4 75.70h2.6M400.7 75.70h-2.6" stroke="#a2a2a2" stroke-width="0.6" fill="none"/>
<rect x="238.4" y="72.4" width="162.30" height="162.40" fill="none" stroke="#adadad" stroke-width="0.9"/>
<text x="241.10" y="246.10" transform="rotate(0.03 241.10 246.10)" text-anchor="middle" style="font-family:'Liberation Sans',sans-serif;font-size:12px;fill:#000;stroke:#000;stroke-width:0.12px" >0.0</text>
<text x="235.50" y="235.10" transform="rotate(0.03 235.50 235.10)" text-anchor="end" style="font-family:'Liberation Sans',sans-serif;font-size:12px;fill:#000;stroke:#000;stroke-width:0.12px" >0.0</text>
<text x="280.20" y="246.10" transform="rotate(0.03 280.20 246.10)" text-anchor="middle" style="font-family:'Liberation Sans',sans-serif;font-size:12px;fill:#000;stroke:#000;stroke-width:0.12px" >0.5</text>
<text x="235.50" y="196.10" transform="rotate(0.03 235.50 196.10)" text-anchor="end" style="font-family:'Liberation Sans',sans-serif;font-size:12px;fill:#000;stroke:#000;stroke-width:0.12px" >0.5</text>
<text x="319.30" y="246.10" transform="rotate(0.03 319.30 246.10)" text-anchor="middle" style="font-family:'Liberation Sans',sans-serif;font-size:12px;fill:#000;stroke:#000;stroke-width:0.12px" >1.0</text>
<text x="235.50" y="157.10" transform="rotate(0.03 235.50 157.10)" text-anchor="end" style="font-family:'Liberation Sans',sans-serif;font-size:12px;fill:#000;stroke:#000;stroke-width:0.12px" >1.0</text>
<text x="358.40" y="246.10" transform="rotate(0.03 358.40 246.10)" text-anchor="middle" style="font-family:'Liberation Sans',sans-serif;font-size:12px;fill:#000;stroke:#000;stroke-width:0.12px" >1.5</text>
<text x="235.50" y="118.10" transform="rotate(0.03 235.50 118.10)" text-anchor="end" style="font-family:'Liberation Sans',sans-serif;font-size:12px;fill:#000;stroke:#000;stroke-width:0.12px" >1.5</text>
<text x="397.50" y="246.10" transform="rotate(0.03 397.50 246.10)" text-anchor="middle" style="font-family:'Liberation Sans',sans-serif;font-size:12px;fill:#000;stroke:#000;stroke-width:0.12px" >2.0</text>
<text x="235.50" y="79.10" transform="rotate(0.03 235.50 79.10)" text-anchor="end" style="font-family:'Liberation Sans',sans-serif;font-size:12px;fill:#000;stroke:#000;stroke-width:0.12px" >2.0</text>
<text x="189.50" y="157.90" transform="rotate(0.03 189.50 157.90)" style="font-family:'Liberation Serif',serif;font-size:13.6px;font-style:italic;fill:#000">Ω</text>
<text x="198.90" y="159.90" transform="rotate(0.03 198.90 159.90)" style="font-family:'Liberation Sans',sans-serif;font-size:9.6px;font-style:italic;fill:#000">h</text>
<text x="208.20" y="157.90" transform="rotate(0.03 208.20 157.90)" style="font-family:'Liberation Sans',sans-serif;font-size:12px;font-style:italic;fill:#000">L</text>
<text x="307.70" y="264.10" transform="rotate(0.03 307.70 264.10)" style="font-family:'Liberation Sans',sans-serif;font-style:italic;fill:#000;font-size:12px">R</text>
<text x="315.80" y="267.10" transform="rotate(0.03 315.80 267.10)" style="font-family:'Liberation Sans',sans-serif;fill:#000;font-size:9.4px">+</text>
<text x="321.30" y="266.10" transform="rotate(0.03 321.30 266.10)" style="font-family:'Liberation Sans',sans-serif;fill:#000;font-size:14.4px">/</text>
<text x="325.80" y="264.10" transform="rotate(0.03 325.80 264.10)" style="font-family:'Liberation Sans',sans-serif;font-style:italic;fill:#000;font-size:12px">L</text>
<path d="M481.73 269.96L485.42 270.50L489.17 271.50L492.86 272.60L496.55 274.10L500.19 276.00L504.24 278.50L508.06 280.96L512.09 283.40L516.69 286.45L521.60 289.90L526.56 293.70L531.90 297.60L537.61 301.80L544.47 306.90L551.51 311.70L559.78 317.00L569.21 322.10L580.45 327.45L594.82 332.90L612.05 338.50L635.20 343.60L663.64 346.80" fill="none" stroke="#0000ff" stroke-width="0.6"/>
<circle cx="481.73" cy="269.96" r="2.65" fill="#0000ff"/>
<circle cx="485.42" cy="270.50" r="2.65" fill="#0000ff"/>
<circle cx="489.17" cy="271.50" r="2.65" fill="#0000ff"/>
<circle cx="492.86" cy="272.60" r="2.65" fill="#0000ff"/>
<circle cx="496.55" cy="274.10" r="2.65" fill="#0000ff"/>
<circle cx="500.19" cy="276.00" r="2.65" fill="#0000ff"/>
<circle cx="504.24" cy="278.50" r="2.65" fill="#0000ff"/>
<circle cx="508.06" cy="280.96" r="2.65" fill="#0000ff"/>
<circle cx="512.09" cy="283.40" r="2.65" fill="#0000ff"/>
<circle cx="516.69" cy="286.45" r="2.65" fill="#0000ff"/>
<circle cx="521.60" cy="289.90" r="2.65" fill="#0000ff"/>
<circle cx="526.56" cy="293.70" r="2.65" fill="#0000ff"/>
<circle cx="531.90" cy="297.60" r="2.65" fill="#0000ff"/>
<circle cx="537.61" cy="301.80" r="2.65" fill="#0000ff"/>
<circle cx="544.47" cy="306.90" r="2.65" fill="#0000ff"/>
<circle cx="551.51" cy="311.70" r="2.65" fill="#0000ff"/>
<circle cx="559.78" cy="317.00" r="2.65" fill="#0000ff"/>
<circle cx="569.21" cy="322.10" r="2.65" fill="#0000ff"/>
<circle cx="580.45" cy="327.45" r="2.65" fill="#0000ff"/>
<circle cx="594.82" cy="332.90" r="2.65" fill="#0000ff"/>
<circle cx="612.05" cy="338.50" r="2.65" fill="#0000ff"/>
<circle cx="635.20" cy="343.60" r="2.65" fill="#0000ff"/>
<circle cx="663.64" cy="346.80" r="2.65" fill="#0000ff"/>
<path d="M481.33 219.50L484.97 220.20L488.71 221.20L492.46 222.70L496.30 224.60L500.25 227.25L503.99 230.10L507.74 233.30L511.63 236.70L515.83 240.90L520.08 245.60L524.66 250.80L529.39 256.10L534.56 261.85L540.02 268.25L545.89 274.95L552.47 281.95L559.55 289.75L567.90 297.60L577.44 306.40L589.40 315.90L605.02 325.70L627.33 335.60L664.55 346.40L674.87 348.15L686.00 349.70L697.89 350.50L710.29 351.50" fill="none" stroke="#ff0000" stroke-width="0.6"/>
<rect x="478.88" y="217.05" width="4.90" height="4.90" fill="#ff0000"/>
<rect x="482.52" y="217.75" width="4.90" height="4.90" fill="#ff0000"/>
<rect x="486.26" y="218.75" width="4.90" height="4.90" fill="#ff0000"/>
<rect x="490.01" y="220.25" width="4.90" height="4.90" fill="#ff0000"/>
<rect x="493.85" y="222.15" width="4.90" height="4.90" fill="#ff0000"/>
<rect x="497.80" y="224.80" width="4.90" height="4.90" fill="#ff0000"/>
<rect x="501.54" y="227.65" width="4.90" height="4.90" fill="#ff0000"/>
<rect x="505.29" y="230.85" width="4.90" height="4.90" fill="#ff0000"/>
<rect x="509.18" y="234.25" width="4.90" height="4.90" fill="#ff0000"/>
<rect x="513.38" y="238.45" width="4.90" height="4.90" fill="#ff0000"/>
<rect x="517.63" y="243.15" width="4.90" height="4.90" fill="#ff0000"/>
<rect x="522.21" y="248.35" width="4.90" height="4.90" fill="#ff0000"/>
<rect x="526.94" y="253.65" width="4.90" height="4.90" fill="#ff0000"/>
<rect x="532.11" y="259.40" width="4.90" height="4.90" fill="#ff0000"/>
<rect x="537.57" y="265.80" width="4.90" height="4.90" fill="#ff0000"/>
<rect x="543.44" y="272.50" width="4.90" height="4.90" fill="#ff0000"/>
<rect x="550.02" y="279.50" width="4.90" height="4.90" fill="#ff0000"/>
<rect x="557.10" y="287.30" width="4.90" height="4.90" fill="#ff0000"/>
<rect x="565.45" y="295.15" width="4.90" height="4.90" fill="#ff0000"/>
<rect x="574.99" y="303.95" width="4.90" height="4.90" fill="#ff0000"/>
<rect x="586.95" y="313.45" width="4.90" height="4.90" fill="#ff0000"/>
<rect x="602.57" y="323.25" width="4.90" height="4.90" fill="#ff0000"/>
<rect x="624.88" y="333.15" width="4.90" height="4.90" fill="#ff0000"/>
<rect x="662.10" y="343.95" width="4.90" height="4.90" fill="#ff0000"/>
<rect x="672.42" y="345.70" width="4.90" height="4.90" fill="#ff0000"/>
<rect x="683.55" y="347.25" width="4.90" height="4.90" fill="#ff0000"/>
<rect x="695.44" y="348.05" width="4.90" height="4.90" fill="#ff0000"/>
<rect x="707.84" y="349.05" width="4.90" height="4.90" fill="#ff0000"/>
<path d="M485.10 152.80L488.60 154.86L492.10 156.87L496.10 159.69L499.90 163.10L503.50 166.71L507.30 171.03L511.20 175.93L515.63 181.78L519.58 187.07L523.83 193.64L528.43 200.81L533.29 208.71L538.12 216.51L543.41 225.52L549.23 234.29L555.43 244.51L562.54 254.95L570.25 266.79L579.04 278.93L589.73 291.88L603.55 305.80L623.79 321.97L662.37 340.82L676.61 345.07L696.88 349.57L721.22 352.41L747.83 354.40" fill="none" stroke="#256c60" stroke-width="0.6"/>
<path d="M482.20 152.80L485.10 150.10L488.00 152.80L485.10 155.50Z" fill="#256c60"/>
<path d="M485.70 154.86L488.60 152.16L491.50 154.86L488.60 157.56Z" fill="#256c60"/>
<path d="M489.20 156.87L492.10 154.17L495.00 156.87L492.10 159.57Z" fill="#256c60"/>
<path d="M493.20 159.69L496.10 156.99L499.00 159.69L496.10 162.39Z" fill="#256c60"/>
<path d="M497.00 163.10L499.90 160.40L502.80 163.10L499.90 165.80Z" fill="#256c60"/>
<path d="M500.60 166.71L503.50 164.01L506.40 166.71L503.50 169.41Z" fill="#256c60"/>
<path d="M504.40 171.03L507.30 168.33L510.20 171.03L507.30 173.73Z" fill="#256c60"/>
<path d="M508.30 175.93L511.20 173.23L514.10 175.93L511.20 178.63Z" fill="#256c60"/>
<path d="M512.73 181.78L515.63 179.08L518.53 181.78L515.63 184.48Z" fill="#256c60"/>
<path d="M516.68 187.07L519.58 184.37L522.48 187.07L519.58 189.77Z" fill="#256c60"/>
<path d="M520.93 193.64L523.83 190.94L526.73 193.64L523.83 196.34Z" fill="#256c60"/>
<path d="M525.53 200.81L528.43 198.11L531.33 200.81L528.43 203.51Z" fill="#256c60"/>
<path d="M530.39 208.71L533.29 206.01L536.19 208.71L533.29 211.41Z" fill="#256c60"/>
<path d="M535.22 216.51L538.12 213.81L541.02 216.51L538.12 219.21Z" fill="#256c60"/>
<path d="M540.51 225.52L543.41 222.82L546.31 225.52L543.41 228.22Z" fill="#256c60"/>
<path d="M546.33 234.29L549.23 231.59L552.13 234.29L549.23 236.99Z" fill="#256c60"/>
<path d="M552.53 244.51L555.43 241.81L558.33 244.51L555.43 247.21Z" fill="#256c60"/>
<path d="M559.64 254.95L562.54 252.25L565.44 254.95L562.54 257.65Z" fill="#256c60"/>
<path d="M567.35 266.79L570.25 264.09L573.15 266.79L570.25 269.49Z" fill="#256c60"/>
<path d="M576.14 278.93L579.04 276.23L581.94 278.93L579.04 281.63Z" fill="#256c60"/>
<path d="M586.83 291.88L589.73 289.18L592.63 291.88L589.73 294.58Z" fill="#256c60"/>
<path d="M600.65 305.80L603.55 303.10L606.45 305.80L603.55 308.50Z" fill="#256c60"/>
<path d="M620.89 321.97L623.79 319.27L626.69 321.97L623.79 324.67Z" fill="#256c60"/>
<path d="M659.47 340.82L662.37 338.12L665.27 340.82L662.37 343.52Z" fill="#256c60"/>
<path d="M673.71 345.07L676.61 342.37L679.51 345.07L676.61 347.77Z" fill="#256c60"/>
<path d="M693.98 349.57L696.88 346.87L699.78 349.57L696.88 352.27Z" fill="#256c60"/>
<path d="M718.32 352.41L721.22 349.71L724.12 352.41L721.22 355.11Z" fill="#256c60"/>
<path d="M744.93 354.40L747.83 351.70L750.73 354.40L747.83 357.10Z" fill="#256c60"/>
<path d="M485.10 70.50L488.56 72.40L492.07 75.05L495.69 78.50L499.49 82.60L503.33 87.20L507.18 92.70L511.23 99.60L515.33 106.55L519.32 113.85L523.37 122.75L527.67 131.50L532.28 140.80L537.24 151.40L542.14 162.40L547.56 174.60L553.23 187.20L559.27 200.30L566.18 215.25L573.84 230.05L582.57 246.45L592.90 264.30L606.10 283.55L625.13 305.15L664.49 333.35L685.90 342.80L761.85 355.70" fill="none" stroke="#d4831f" stroke-width="0.6"/>
<path d="M482.60 72.70L487.60 72.70L485.10 67.80Z" fill="#d4831f"/>
<path d="M486.06 74.60L491.06 74.60L488.56 69.70Z" fill="#d4831f"/>
<path d="M489.57 77.25L494.57 77.25L492.07 72.35Z" fill="#d4831f"/>
<path d="M493.19 80.70L498.19 80.70L495.69 75.80Z" fill="#d4831f"/>
<path d="M496.99 84.80L501.99 84.80L499.49 79.90Z" fill="#d4831f"/>
<path d="M500.83 89.40L505.83 89.40L503.33 84.50Z" fill="#d4831f"/>
<path d="M504.68 94.90L509.68 94.90L507.18 90.00Z" fill="#d4831f"/>
<path d="M508.73 101.80L513.73 101.80L511.23 96.90Z" fill="#d4831f"/>
<path d="M512.83 108.75L517.83 108.75L515.33 103.85Z" fill="#d4831f"/>
<path d="M516.82 116.05L521.82 116.05L519.32 111.15Z" fill="#d4831f"/>
<path d="M520.87 124.95L525.87 124.95L523.37 120.05Z" fill="#d4831f"/>
<path d="M525.17 133.70L530.17 133.70L527.67 128.80Z" fill="#d4831f"/>
<path d="M529.78 143.00L534.78 143.00L532.28 138.10Z" fill="#d4831f"/>
<path d="M534.74 153.60L539.74 153.60L537.24 148.70Z" fill="#d4831f"/>
<path d="M539.64 164.60L544.64 164.60L542.14 159.70Z" fill="#d4831f"/>
<path d="M545.06 176.80L550.06 176.80L547.56 171.90Z" fill="#d4831f"/>
<path d="M550.73 189.40L555.73 189.40L553.23 184.50Z" fill="#d4831f"/>
<path d="M556.77 202.50L561.77 202.50L559.27 197.60Z" fill="#d4831f"/>
<path d="M563.68 217.45L568.68 217.45L566.18 212.55Z" fill="#d4831f"/>
<path d="M571.34 232.25L576.34 232.25L573.84 227.35Z" fill="#d4831f"/>
<path d="M580.07 248.65L585.07 248.65L582.57 243.75Z" fill="#d4831f"/>
<path d="M590.40 266.50L595.40 266.50L592.90 261.60Z" fill="#d4831f"/>
<path d="M603.60 285.75L608.60 285.75L606.10 280.85Z" fill="#d4831f"/>
<path d="M622.63 307.35L627.63 307.35L625.13 302.45Z" fill="#d4831f"/>
<path d="M661.99 335.55L666.99 335.55L664.49 330.65Z" fill="#d4831f"/>
<path d="M683.40 345.00L688.40 345.00L685.90 340.10Z" fill="#d4831f"/>
<path d="M759.35 357.90L764.35 357.90L761.85 353.00Z" fill="#d4831f"/>
<circle cx="477.35" cy="269.38" r="2.5" fill="#000"/>
<circle cx="477.35" cy="219.11" r="2.5" fill="#000"/>
<circle cx="477.35" cy="152.09" r="2.5" fill="#000"/>
<circle cx="477.35" cy="68.31" r="2.5" fill="#000"/>
<path d="M477.35 361.4v-4.0M477.35 51.5v4.0M495.06 361.4v-2.4M495.06 51.5v2.4M512.77 361.4v-2.4M512.77 51.5v2.4M530.48 361.4v-2.4M530.48 51.5v2.4M548.19 361.4v-2.4M548.19 51.5v2.4M565.90 361.4v-4.0M565.90 51.5v4.0M583.61 361.4v-2.4M583.61 51.5v2.4M601.32 361.4v-2.4M601.32 51.5v2.4M619.03 361.4v-2.4M619.03 51.5v2.4M636.74 361.4v-2.4M636.74 51.5v2.4M654.45 361.4v-4.0M654.45 51.5v4.0M672.16 361.4v-2.4M672.16 51.5v2.4M689.87 361.4v-2.4M689.87 51.5v2.4M707.58 361.4v-2.4M707.58 51.5v2.4M725.29 361.4v-2.4M725.29 51.5v2.4M743.00 361.4v-4.0M743.00 51.5v4.0M760.71 361.4v-2.4M760.71 51.5v2.4M778.42 361.4v-2.4M778.42 51.5v2.4M468.5 353.16h2.4M778.6 353.16h-2.4M468.5 344.78h4.0M778.6 344.78h-4.0M468.5 336.40h2.4M778.6 336.40h-2.4M468.5 328.02h2.4M778.6 328.02h-2.4M468.5 319.65h2.4M778.6 319.65h-2.4M468.5 311.27h2.4M778.6 311.27h-2.4M468.5 302.89h4.0M778.6 302.89h-4.0M468.5 294.51h2.4M778.6 294.51h-2.4M468.5 286.13h2.4M778.6 286.13h-2.4M468.5 277.76h2.4M778.6 277.76h-2.4M468.5 269.38h2.4M778.6 269.38h-2.4M468.5 261.00h4.0M778.6 261.00h-4.0M468.5 252.62h2.4M778.6 252.62h-2.4M468.5 244.24h2.4M778.6 244.24h-2.4M468.5 235.87h2.4M778.6 235.87h-2.4M468.5 227.49h2.4M778.6 227.49h-2.4M468.5 219.11h4.0M778.6 219.11h-4.0M468.5 210.73h2.4M778.6 210.73h-2.4M468.5 202.35h2.4M778.6 202.35h-2.4M468.5 193.98h2.4M778.6 193.98h-2.4M468.5 185.60h2.4M778.6 185.60h-2.4M468.5 177.22h4.0M778.6 177.22h-4.0M468.5 168.84h2.4M778.6 168.84h-2.4M468.5 160.46h2.4M778.6 160.46h-2.4M468.5 152.09h2.4M778.6 152.09h-2.4M468.5 143.71h2.4M778.6 143.71h-2.4M468.5 135.33h4.0M778.6 135.33h-4.0M468.5 126.95h2.4M778.6 126.95h-2.4M468.5 118.57h2.4M778.6 118.57h-2.4M468.5 110.20h2.4M778.6 110.20h-2.4M468.5 101.82h2.4M778.6 101.82h-2.4M468.5 93.44h4.0M778.6 93.44h-4.0M468.5 85.06h2.4M778.6 85.06h-2.4M468.5 76.68h2.4M778.6 76.68h-2.4M468.5 68.31h2.4M778.6 68.31h-2.4M468.5 59.93h2.4M778.6 59.93h-2.4M468.5 51.55h4.0M778.6 51.55h-4.0" stroke="#9c9c9c" stroke-width="0.8" fill="none"/>
<rect x="468.5" y="51.5" width="310.10" height="309.90" fill="none" stroke="#929292" stroke-width="1.0"/>
<text x="477.35" y="372.90" transform="rotate(0.03 477.35 372.90)" text-anchor="middle" style="font-family:'Liberation Sans',sans-serif;font-size:12px;fill:#000;stroke:#000;stroke-width:0.12px" >0.0</text>
<text x="565.90" y="372.90" transform="rotate(0.03 565.90 372.90)" text-anchor="middle" style="font-family:'Liberation Sans',sans-serif;font-size:12px;fill:#000;stroke:#000;stroke-width:0.12px" >0.5</text>
<text x="654.45" y="372.90" transform="rotate(0.03 654.45 372.90)" text-anchor="middle" style="font-family:'Liberation Sans',sans-serif;font-size:12px;fill:#000;stroke:#000;stroke-width:0.12px" >1.0</text>
<text x="743.00" y="372.90" transform="rotate(0.03 743.00 372.90)" text-anchor="middle" style="font-family:'Liberation Sans',sans-serif;font-size:12px;fill:#000;stroke:#000;stroke-width:0.12px" >1.5</text>
<text x="466.50" y="348.48" transform="rotate(0.03 466.50 348.48)" text-anchor="end" style="font-family:'Liberation Sans',sans-serif;font-size:12px;fill:#000;stroke:#000;stroke-width:0.12px" ><tspan letter-spacing="1.6">−</tspan>5</text>
<text x="466.50" y="306.59" transform="rotate(0.03 466.50 306.59)" text-anchor="end" style="font-family:'Liberation Sans',sans-serif;font-size:12px;fill:#000;stroke:#000;stroke-width:0.12px" >0</text>
<text x="466.50" y="264.70" transform="rotate(0.03 466.50 264.70)" text-anchor="end" style="font-family:'Liberation Sans',sans-serif;font-size:12px;fill:#000;stroke:#000;stroke-width:0.12px" >5</text>
<text x="466.50" y="222.81" transform="rotate(0.03 466.50 222.81)" text-anchor="end" style="font-family:'Liberation Sans',sans-serif;font-size:12px;fill:#000;stroke:#000;stroke-width:0.12px" >10</text>
<text x="466.50" y="180.92" transform="rotate(0.03 466.50 180.92)" text-anchor="end" style="font-family:'Liberation Sans',sans-serif;font-size:12px;fill:#000;stroke:#000;stroke-width:0.12px" >15</text>
<text x="466.50" y="139.03" transform="rotate(0.03 466.50 139.03)" text-anchor="end" style="font-family:'Liberation Sans',sans-serif;font-size:12px;fill:#000;stroke:#000;stroke-width:0.12px" >20</text>
<text x="466.50" y="97.14" transform="rotate(0.03 466.50 97.14)" text-anchor="end" style="font-family:'Liberation Sans',sans-serif;font-size:12px;fill:#000;stroke:#000;stroke-width:0.12px" >25</text>
<text x="466.50" y="55.25" transform="rotate(0.03 466.50 55.25)" text-anchor="end" style="font-family:'Liberation Sans',sans-serif;font-size:12px;fill:#000;stroke:#000;stroke-width:0.12px" >30</text>
<text x="439.6" y="209.9" transform="rotate(0.03 439.6 209.9)" style="font-family:'Liberation Serif',serif;font-size:13px;fill:#000">λ</text>
<text x="611.50" y="390.95" transform="rotate(0.03 611.50 390.95)" style="font-family:'Liberation Sans',sans-serif;font-style:italic;fill:#000;font-size:12px">R</text>
<text x="619.60" y="393.95" transform="rotate(0.03 619.60 393.95)" style="font-family:'Liberation Sans',sans-serif;fill:#000;font-size:9.4px">+</text>
<text x="625.10" y="392.95" transform="rotate(0.03 625.10 392.95)" style="font-family:'Liberation Sans',sans-serif;fill:#000;font-size:14.4px">/</text>
<text x="629.60" y="390.95" transform="rotate(0.03 629.60 390.95)" style="font-family:'Liberation Sans',sans-serif;font-style:italic;fill:#000;font-size:12px">L</text>
<circle cx="793.60" cy="190.10" r="4.35" fill="#0000ff"/>
<text x="803.6" y="192.65" transform="rotate(0.03 803.6 192.65)" style="font-family:'Liberation Sans',sans-serif;font-size:13.6px;fill:#000;stroke:#000;stroke-width:0.12px">m = 2</text>
<rect x="789.90" y="205.20" width="7.40" height="7.40" fill="#ff0000"/>
<text x="803.6" y="211.45" transform="rotate(0.03 803.6 211.45)" style="font-family:'Liberation Sans',sans-serif;font-size:13.6px;fill:#000;stroke:#000;stroke-width:0.12px">m = 3</text>
<path d="M789.13 228.00L793.60 223.84L798.07 228.00L793.60 232.16Z" fill="#256c60"/>
<text x="803.6" y="230.55" transform="rotate(0.03 803.6 230.55)" style="font-family:'Liberation Sans',sans-serif;font-size:13.6px;fill:#000;stroke:#000;stroke-width:0.12px">m = 4</text>
<path d="M789.80 250.64L797.40 250.64L793.60 243.20Z" fill="#d4831f"/>
<text x="803.6" y="249.85" transform="rotate(0.03 803.6 249.85)" style="font-family:'Liberation Sans',sans-serif;font-size:13.6px;fill:#000;stroke:#000;stroke-width:0.12px">m = 5</text>
</svg>
</body></html>
